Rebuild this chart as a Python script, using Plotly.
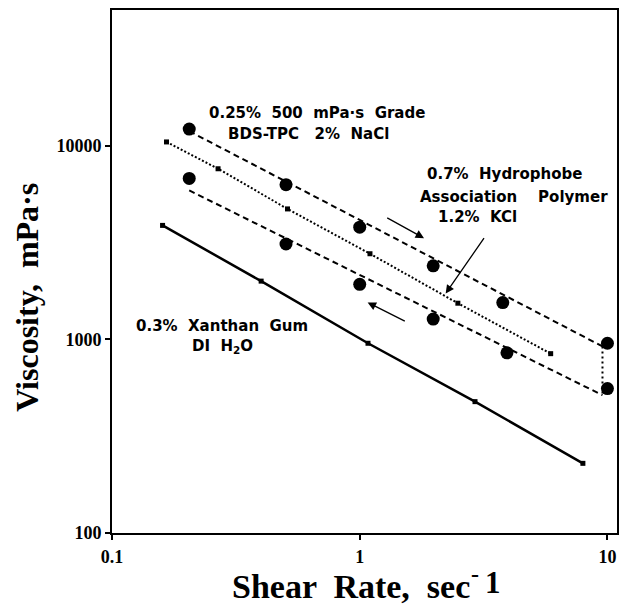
import math
import plotly.graph_objects as go

# Shear-rate sweeps (sec^-1) and measured viscosities (mPa·s)
xanthan_rate = [0.16, 0.40, 1.08, 2.92, 7.96]
xanthan_visc = [3880, 2000, 955, 477, 229]

hap_rate = [0.166, 0.268, 0.511, 1.10, 2.49, 5.90]
hap_visc = [10470, 7610, 4720, 2770, 1538, 844]

bds_rate = [0.205, 0.504, 1.0, 1.98, 3.78, 10.0]
bds_visc_up = [12200, 6300, 3800, 2400, 1550, 955]
bds_rate_down = [0.205, 0.504, 1.0, 1.98, 3.93, 10.0]
bds_visc_down = [6780, 3110, 1925, 1274, 852, 557]

# Power-law fits drawn through the BDS-TPC sweeps
fit_rate = [0.205, 9.55]
fit_visc_up = [11900, 920]
fit_visc_down = [5880, 515]

x_ticks = [0.1, 1, 10]
x_tick_text = ["0.1", "1", "10"]
y_ticks = [100, 1000, 10000]
y_tick_text = ["100", "1000", "10000"]

BLACK = "black"
LABEL_FONT = dict(family="DejaVu Sans", size=15, color=BLACK, weight="bold")
SERIF = "Liberation Serif"

fig = go.Figure()

fig.add_trace(go.Scatter(
    x=xanthan_rate, y=xanthan_visc, mode="lines+markers",
    line=dict(color=BLACK, width=2.5),
    marker=dict(symbol="square", size=5, color=BLACK),
))
fig.add_trace(go.Scatter(
    x=hap_rate, y=hap_visc, mode="lines+markers",
    line=dict(color=BLACK, width=2, dash="2px,2px"),
    marker=dict(symbol="square", size=5, color=BLACK),
))
fig.add_trace(go.Scatter(
    x=fit_rate, y=fit_visc_up, mode="lines",
    line=dict(color=BLACK, width=2, dash="6px,4px"),
))
fig.add_trace(go.Scatter(
    x=fit_rate, y=fit_visc_down, mode="lines",
    line=dict(color=BLACK, width=2, dash="6px,4px"),
))
fig.add_trace(go.Scatter(
    x=[fit_rate[-1], fit_rate[-1]], y=[fit_visc_up[-1], fit_visc_down[-1]],
    mode="lines", line=dict(color=BLACK, width=2, dash="2px,3px"),
))
fig.add_trace(go.Scatter(
    x=bds_rate, y=bds_visc_up, mode="markers",
    marker=dict(symbol="circle", size=13, color=BLACK),
))
fig.add_trace(go.Scatter(
    x=bds_rate_down, y=bds_visc_down, mode="markers",
    marker=dict(symbol="circle", size=13, color=BLACK),
))

# Text labels (positions in log10 units of the axes)
labels = [
    ("0.25%  500  mPa·s  Grade", -0.173, 4.172),
    ("BDS-TPC   2%  NaCl", -0.205, 4.060),
    ("0.7%  Hydrophobe", 0.585, 3.854),
    ("Association    Polymer", 0.623, 3.737),
    ("1.2%  KCl", 0.475, 3.630),
    ("0.3%  Xanthan  Gum", -0.557, 3.071),
    ("DI  H<sub>2</sub>O", -0.553, 2.964),
]
for text, lx, ly in labels:
    fig.add_annotation(x=lx, y=ly, xref="x", yref="y", text=text,
                       showarrow=False, font=LABEL_FONT,
                       xanchor="center", yanchor="middle")

# Direction arrows (ramp up / ramp down) and pointer to the HAP curve
arrows = [
    ((0.105, 3.632), (0.2596, 3.523)),
    ((0.188, 3.0905), (0.0318, 3.191)),
    ((0.506, 3.531), (0.347, 3.237)),
]
for (tx, ty), (hx, hy) in arrows:
    fig.add_annotation(x=hx, y=hy, ax=tx, ay=ty, xref="x", yref="y",
                       axref="x", ayref="y", text="", showarrow=True,
                       arrowhead=2, arrowsize=1.3, arrowwidth=1.3,
                       arrowcolor=BLACK, standoff=0, startstandoff=0)

# Axis titles
title_font = dict(family=SERIF, size=34, color=BLACK, weight="bold")
fig.add_annotation(x=-0.17, y=0.45, xref="paper", yref="paper",
                   text="Viscosity,  mPa·s", textangle=-90, showarrow=False,
                   font=dict(family=SERIF, size=32, color=BLACK, weight="bold"),
                   xanchor="center", yanchor="middle")
fig.add_annotation(x=0.2327, y=-0.1015, xref="paper", yref="paper",
                   text="Shear  Rate,  sec", showarrow=False, font=title_font,
                   xanchor="left", yanchor="middle")
# exponent of sec^-1: small raised minus, full-height raised one
fig.add_annotation(x=0.706, y=-0.078, xref="paper", yref="paper",
                   text="-", showarrow=False,
                   font=dict(family=SERIF, size=24, color=BLACK, weight="bold"),
                   xanchor="left", yanchor="middle")
fig.add_annotation(x=0.734, y=-0.094, xref="paper", yref="paper",
                   text="1", showarrow=False,
                   font=dict(family=SERIF, size=31, color=BLACK, weight="bold"),
                   xanchor="left", yanchor="middle")

axis_common = dict(
    showline=True, linecolor=BLACK, linewidth=2, mirror=True,
    showgrid=False, zeroline=False, ticks="outside", ticklen=5,
    tickwidth=1.5, tickcolor=BLACK,
    tickfont=dict(family=SERIF, size=18, color=BLACK, weight="bold"),
)
fig.update_xaxes(type="log", range=[-1, -1 + 507 / 248.7],
                 tickvals=x_ticks, ticktext=x_tick_text,
                 ticklabelstandoff=1, **axis_common)
fig.update_yaxes(type="log", range=[2, 2 + 523 / 193.6],
                 tickvals=y_ticks, ticktext=y_tick_text, **axis_common)

fig.update_layout(
    width=621, height=609,
    margin=dict(l=112, r=2, t=10, b=76),
    paper_bgcolor="white", plot_bgcolor="white",
    showlegend=False,
)

fig.write_html("out.html")
